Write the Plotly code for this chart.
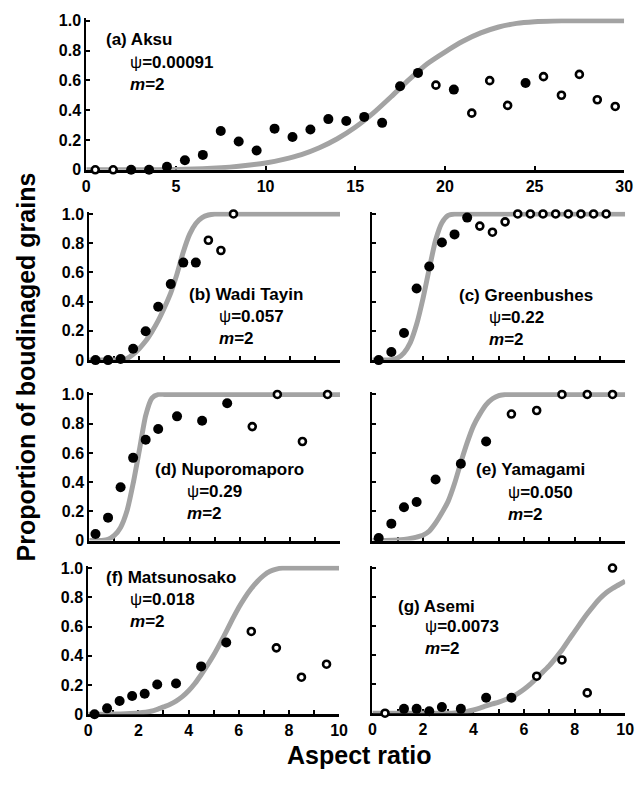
import plotly.graph_objects as go

W, H = 642, 785

# ---------------- data ----------------
a_filled_x = [2.5, 3.5, 4.5, 5.5, 6.5, 7.5, 8.5, 9.5, 10.5, 11.5, 12.5, 13.5, 14.5, 15.5, 16.5, 17.5, 18.5, 20.5, 24.5]
a_filled_y = [0, 0, 0.02, 0.064, 0.10, 0.26, 0.19, 0.13, 0.276, 0.22, 0.27, 0.34, 0.327, 0.355, 0.315, 0.56, 0.65, 0.538, 0.582]
a_open_x = [0.5, 1.5, 19.5, 21.5, 22.5, 23.5, 25.5, 26.5, 27.5, 28.5, 29.5]
a_open_y = [0, 0, 0.568, 0.38, 0.598, 0.432, 0.625, 0.50, 0.64, 0.47, 0.425]
a_curve_x = [0, 1, 2, 3, 4, 5, 6, 7, 8, 9, 10, 11, 12, 13, 14, 15, 16, 17, 18, 19, 20,
             21, 22, 23, 24, 25, 26, 27, 28, 29, 30]
a_curve_y = [0, 0, 0, 0, 0.001, 0.002, 0.005, 0.01, 0.018, 0.03, 0.046, 0.07, 0.102, 0.148, 0.208,
             0.285, 0.38, 0.49, 0.605, 0.71, 0.79, 0.862, 0.918, 0.958, 0.982, 0.993, 0.998, 1, 1, 1, 1]

b_filled_x = [0.25, 0.75, 1.25, 1.75, 2.25, 2.75, 3.25, 3.75, 4.25]
b_filled_y = [0, 0, 0.007, 0.078, 0.197, 0.365, 0.52, 0.667, 0.667]
b_open_x = [4.75, 5.25, 5.75]
b_open_y = [0.82, 0.75, 1.0]
b_curve_x = [0, 0.5, 1.0, 1.25, 1.5, 1.75, 2.0, 2.25, 2.5, 2.75, 3.0, 3.25, 3.5, 3.75,
             4.0, 4.25, 4.5, 4.75, 5.0, 5.5, 6, 7, 8, 9, 10]
b_curve_y = [0, 0, 0, 0.002, 0.01, 0.04, 0.08, 0.13, 0.195, 0.27, 0.36, 0.46, 0.59, 0.74,
             0.86, 0.935, 0.975, 0.993, 1, 1, 1, 1, 1, 1, 1]

c_filled_x = [0.25, 0.75, 1.25, 1.75, 2.25, 2.75, 3.25, 3.75]
c_filled_y = [0, 0.056, 0.186, 0.49, 0.64, 0.805, 0.86, 0.975]
c_open_x = [4.25, 4.75, 5.25, 5.75, 6.25, 6.75, 7.25, 7.75, 8.25, 8.75, 9.25]
c_open_y = [0.917, 0.875, 0.946, 1, 1, 1, 1, 1, 1, 1, 1]
c_curve_x = [0, 0.25, 0.5, 0.75, 1.0, 1.25, 1.5, 1.75, 2.0, 2.25, 2.5, 2.75, 3.0, 3.25,
             3.5, 4, 5, 6, 7, 8, 9, 10]
c_curve_y = [0, 0, 0, 0.003, 0.015, 0.05, 0.12, 0.245, 0.42, 0.625, 0.82, 0.94, 0.99, 1,
             1, 1, 1, 1, 1, 1, 1, 1]

d_filled_x = [0.25, 0.75, 1.25, 1.75, 2.25, 2.75, 3.5, 4.5, 5.5]
d_filled_y = [0.045, 0.157, 0.365, 0.566, 0.69, 0.763, 0.85, 0.82, 0.94]
d_open_x = [6.5, 7.5, 8.5, 9.5]
d_open_y = [0.78, 1.0, 0.678, 1.0]
d_curve_x = [0, 0.25, 0.5, 0.75, 1.0, 1.25, 1.5, 1.75, 2.0, 2.25, 2.5, 2.75, 3.0, 3.5,
             4, 5, 6, 7, 8, 9, 10]
d_curve_y = [0, 0, 0.001, 0.008, 0.035, 0.09, 0.2, 0.39, 0.62, 0.855, 0.975, 1, 1, 1,
             1, 1, 1, 1, 1, 1, 1]

e_filled_x = [0.25, 0.75, 1.25, 1.75, 2.5, 3.5, 4.5]
e_filled_y = [0.018, 0.116, 0.228, 0.264, 0.418, 0.526, 0.678]
e_open_x = [5.5, 6.5, 7.5, 8.5, 9.5]
e_open_y = [0.866, 0.89, 1, 1, 1]
e_curve_x = [0, 0.5, 1.0, 1.25, 1.5, 1.75, 2.0, 2.25, 2.5, 2.75, 3.0, 3.25, 3.5, 3.75,
             4.0, 4.25, 4.5, 4.75, 5.0, 5.25, 5.5, 6, 7, 8, 9, 10]
e_curve_y = [0, 0.001, 0.004, 0.008, 0.014, 0.024, 0.037, 0.065, 0.12, 0.19, 0.27, 0.39,
             0.535, 0.67, 0.785, 0.865, 0.93, 0.97, 0.992, 1, 1, 1, 1, 1, 1, 1]

f_filled_x = [0.25, 0.75, 1.25, 1.75, 2.25, 2.75, 3.5, 4.5, 5.5]
f_filled_y = [0, 0.04, 0.09, 0.125, 0.14, 0.203, 0.21, 0.327, 0.49]
f_open_x = [6.5, 7.5, 8.5, 9.5]
f_open_y = [0.566, 0.454, 0.253, 0.342]
f_curve_x = [0, 0.5, 1.0, 1.5, 2.0, 2.5, 2.75, 3.0, 3.25, 3.5, 3.75, 4.0, 4.25, 4.5, 4.75,
             5.0, 5.25, 5.5, 5.75, 6.0, 6.25, 6.5, 6.75, 7.0, 7.25, 7.5, 7.75, 8, 9, 10]
f_curve_y = [0, 0, 0.001, 0.003, 0.008, 0.02, 0.033, 0.05, 0.067, 0.09, 0.12, 0.16, 0.21,
             0.27, 0.335, 0.405, 0.483, 0.565, 0.65, 0.73, 0.8, 0.86, 0.91, 0.95, 0.978,
             0.993, 1, 1, 1, 1]

g_filled_x = [1.25, 1.75, 2.25, 2.75, 3.5, 4.5, 5.5]
g_filled_y = [0.03, 0.03, 0.013, 0.042, 0.03, 0.107, 0.107]
g_open_x = [0.5, 6.5, 7.5, 8.5, 9.5]
g_open_y = [0, 0.255, 0.367, 0.14, 1.0]
g_curve_x = [0, 1, 2, 3, 3.25, 3.5, 3.75, 4.0, 4.25, 4.5, 4.75, 5.0, 5.25, 5.5, 5.75, 6.0,
             6.25, 6.5, 6.75, 7.0, 7.25, 7.5, 7.75, 8.0, 8.25, 8.5, 8.75, 9.0, 9.25, 9.5,
             9.75, 10]
g_curve_y = [0, 0, 0, 0, 0.002, 0.006, 0.012, 0.022, 0.035, 0.05, 0.064, 0.077, 0.093, 0.11,
             0.135, 0.165, 0.2, 0.242, 0.285, 0.328, 0.38, 0.435, 0.5, 0.562, 0.625, 0.685,
             0.74, 0.79, 0.83, 0.86, 0.885, 0.91]

names = ["(a) Aksu", "(b) Wadi Tayin", "(c) Greenbushes", "(d) Nuporomaporo",
         "(e) Yamagami", "(f) Matsunosako", "(g) Asemi"]
psis = ["0.00091", "0.057", "0.22", "0.29", "0.050", "0.018", "0.0073"]

y_tickvals = [0, 0.2, 0.4, 0.6, 0.8, 1.0]
y_ticktext = ["0", "0.2", "0.4", "0.6", "0.8", "1.0"]
a_xticks = [0, 5, 10, 15, 20, 25, 30]
s_xticks = [0, 2, 4, 6, 8, 10]

# ---------------- layout geometry (pixels) ----------------
# (x_left, x_right, y_of_0, y_of_1, xmax, show_xlabels, show_ylabels)
panels = [
    (84, 633, 167, 15, 30, True, True),
    (87, 343, 361, 212, 10, False, True),
    (376, 634, 361, 212, 10, False, False),
    (87, 343, 545, 396, 10, False, True),
    (376, 634, 545, 396, 10, False, False),
    (86, 342, 722, 573, 10, True, True),
    (376, 634, 721, 573, 10, True, False),
]
YTOP = 1.015

data = [
    (a_filled_x, a_filled_y, a_open_x, a_open_y, a_curve_x, a_curve_y),
    (b_filled_x, b_filled_y, b_open_x, b_open_y, b_curve_x, b_curve_y),
    (c_filled_x, c_filled_y, c_open_x, c_open_y, c_curve_x, c_curve_y),
    (d_filled_x, d_filled_y, d_open_x, d_open_y, d_curve_x, d_curve_y),
    (e_filled_x, e_filled_y, e_open_x, e_open_y, e_curve_x, e_curve_y),
    (f_filled_x, f_filled_y, f_open_x, f_open_y, f_curve_x, f_curve_y),
    (g_filled_x, g_filled_y, g_open_x, g_open_y, g_curve_x, g_curve_y),
]

# text anchor positions (pixels): (name_left, name_y, sub_left, psi_y, m_y)
text_pos = [
    (102, 34, 127, 58, 80),
    (187, 294, 217, 317, 339),
    (462, 295, 493, 318, 340),
    (152, 473, 185, 495, 517),
    (480, 473, 512, 496, 518),
    (102, 583, 127, 605, 627),
    (400, 612, 428, 633, 655),
]

FONT = "Liberation Sans, Arial, Helvetica, sans-serif"
TICKFONT = dict(family=FONT, size=16, color="black", weight="bold")

fig = go.Figure()
layout = dict(
    width=W, height=H, margin=dict(l=0, r=0, t=0, b=0),
    paper_bgcolor="white", plot_bgcolor="white", showlegend=False,
    font=dict(family=FONT, color="black"),
)
annotations = []

for i, (pan, dat) in enumerate(zip(panels, data)):
    xl, xr, y0, y1, xmax, showx, showy = pan
    fx, fy, ox, oy, cx, cy = dat
    ppu = y0 - y1
    ytop_px = y0 - YTOP * ppu
    xdom = [xl / W, xr / W]
    ydom = [1 - y0 / H, 1 - ytop_px / H]
    sfx = "" if i == 0 else str(i + 1)
    xa = "x" + sfx
    ya = "y" + sfx
    fig.add_trace(go.Scatter(x=cx, y=cy, mode="lines", xaxis=xa, yaxis=ya,
                             line=dict(color="#a3a3a3", width=5, shape="spline", smoothing=0.6),
                             hoverinfo="skip"))
    fig.add_trace(go.Scatter(x=fx, y=fy, mode="markers", xaxis=xa, yaxis=ya, cliponaxis=False,
                             marker=dict(size=10, color="black", line=dict(width=0))))
    fig.add_trace(go.Scatter(x=ox, y=oy, mode="markers", xaxis=xa, yaxis=ya, cliponaxis=False,
                             marker=dict(size=7, color="white", line=dict(color="black", width=2.6))))
    xticks = a_xticks if i == 0 else s_xticks
    xaxis = dict(
        domain=xdom, range=[0, xmax], anchor=ya, showgrid=False, zeroline=False,
        showline=True, linecolor="black", linewidth=2.5, layer="below traces",
        ticks="inside", ticklen=4, tickwidth=1.5, tickcolor="black",
        tickmode="array", tickvals=xticks, ticktext=[str(t) for t in xticks],
        showticklabels=showx, tickfont=TICKFONT, fixedrange=True,
    )
    if i != 0:
        xaxis["minor"] = dict(ticks="inside", ticklen=4, tickwidth=1.5, tickcolor="black",
                              dtick=1, tick0=0, showgrid=False)
    yaxis = dict(
        domain=ydom, range=[0, YTOP], anchor=xa, showgrid=False, zeroline=False,
        showline=True, linecolor="black", linewidth=2, layer="below traces",
        ticks="inside", ticklen=4, tickwidth=1.5, tickcolor="black",
        tickmode="array", tickvals=y_tickvals, ticktext=y_ticktext,
        showticklabels=showy, tickfont=TICKFONT, fixedrange=True,
    )
    layout["xaxis" + sfx] = xaxis
    layout["yaxis" + sfx] = yaxis

    nl, ny, sl, py_, my = text_pos[i]
    for txt, xx, yy in [("<b>" + names[i] + "</b>", nl, ny),
                        ("ψ<b>=" + psis[i] + "</b>", sl, py_),
                        ("<b><i>m</i>=2</b>", sl, my)]:
        annotations.append(dict(text=txt, x=xx / W, y=1 - yy / H, xref="paper", yref="paper",
                                xanchor="left", yanchor="middle", showarrow=False,
                                font=dict(family=FONT, size=17, color="black")))

annotations.append(dict(text="<b>Aspect ratio</b>", x=362 / W, y=1 - 764 / H, xref="paper", yref="paper",
                        xanchor="center", yanchor="middle", showarrow=False,
                        font=dict(family=FONT, size=25, color="black")))
annotations.append(dict(text="<b>Proportion of boudinaged grains</b>", x=22 / W, y=1 - 368 / H,
                        xref="paper", yref="paper", xanchor="center", yanchor="middle",
                        showarrow=False, textangle=-90,
                        font=dict(family=FONT, size=25, color="black")))
layout["annotations"] = annotations
fig.update_layout(**layout)

fig.write_html("out.html")
